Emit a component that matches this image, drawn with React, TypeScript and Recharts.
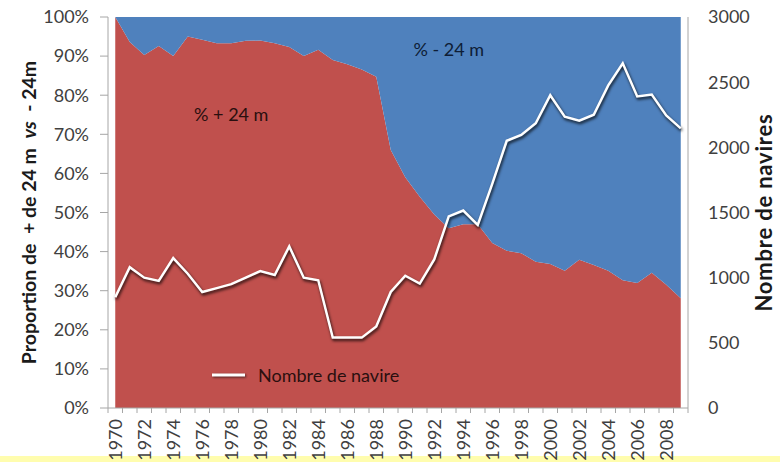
import { Area, ComposedChart, Label, Legend, Line, ReferenceDot, XAxis, YAxis } from "recharts";

const YEARS = [
  1970, 1971, 1972, 1973, 1974, 1975, 1976, 1977, 1978, 1979,
  1980, 1981, 1982, 1983, 1984, 1985, 1986, 1987, 1988, 1989,
  1990, 1991, 1992, 1993, 1994, 1995, 1996, 1997, 1998, 1999,
  2000, 2001, 2002, 2003, 2004, 2005, 2006, 2007, 2008, 2009,
];

// % of vessels over 24 m
const LARGE_PCT = [
  100, 93.6, 90.3, 92.6, 90, 95, 94.2, 93.3, 93.3, 93.9,
  94, 93.3, 92.3, 90, 91.6, 89, 87.9, 86.6, 84.7, 66,
  59, 54, 49.5, 46, 47, 47, 42.2, 40.2, 39.6, 37.4,
  36.8, 35.1, 37.9, 36.6, 35.1, 32.7, 32, 34.6, 31.5, 28.1,
];

// % of vessels under 24 m
const SMALL_PCT = [
  0, 6.4, 9.7, 7.4, 10, 5, 5.8, 6.7, 6.7, 6.1,
  6, 6.7, 7.7, 10, 8.4, 11, 12.1, 13.4, 15.3, 34,
  41, 46, 50.5, 54, 53, 53, 57.8, 59.8, 60.4, 62.6,
  63.2, 64.9, 62.1, 63.4, 64.9, 67.3, 68, 65.4, 68.5, 71.9,
];

// number of vessels
const SHIPS = [
  850, 1080, 1000, 975, 1150, 1030, 890, 920, 950, 1000,
  1050, 1020, 1240, 1000, 980, 540, 540, 540, 625, 890,
  1015, 955, 1140, 1470, 1515, 1405, 1720, 2050, 2095, 2185,
  2400, 2235, 2205, 2250, 2475, 2645, 2390, 2405, 2245, 2145,
];

const PCT_TICKS = [0, 10, 20, 30, 40, 50, 60, 70, 80, 90, 100];
const SHIP_TICKS = [0, 500, 1000, 1500, 2000, 2500, 3000];
const SHIP_MARKS = [0, 300, 600, 900, 1200, 1500, 1800, 2100, 2400, 2700, 3000];

const data = YEARS.map((year, i) => ({
  year,
  large: LARGE_PCT[i],
  small: SMALL_PCT[i],
  ships: SHIPS[i],
}));

const YEAR_BOUNDS = [...YEARS.map((y) => y - 0.5), YEARS[YEARS.length - 1] + 0.5];

const W = 780;
const H = 462;
const LEFT_W = 108;
const RIGHT_W = 92;
const BAND = (W - LEFT_W - RIGHT_W) / YEARS.length;

const FONT = "Lato, 'DejaVu Sans', sans-serif";
const TICK_COLOR = "#404040";
const AXIS_COLOR = "#a6a6a6";
const RED = "#C0504D";
const BLUE = "#4F81BD";

function YearTick({ x, y, payload }: any) {
  const year = Math.round(payload.value + 0.5);
  if (year % 2 !== 0 || year > YEARS[YEARS.length - 1]) return null;
  const cx = x + BAND / 2;
  return (
    <text
      x={cx}
      y={y}
      transform={`rotate(-90, ${cx}, ${y})`}
      textAnchor="end"
      dominantBaseline="central"
      fill={TICK_COLOR}
      fontSize={18}
      fontFamily={FONT}
    >
      {year}
    </text>
  );
}

function LeftTitle({ viewBox }: any) {
  const cx = viewBox.x + 28;
  const cy = viewBox.y + viewBox.height / 2;
  return (
    <text
      x={cx}
      y={cy}
      transform={`rotate(-90, ${cx}, ${cy})`}
      textAnchor="middle"
      dominantBaseline="central"
      fontFamily={FONT}
      fontWeight="bold"
      fontSize={19.5}
      fill="#1a1a1a"
      style={{ whiteSpace: "pre" }}
    >
      {"Proportion de  + de 24 m  "}
      <tspan fontStyle="italic">vs</tspan>
      {"  - 24m"}
    </text>
  );
}

function RightTitle({ viewBox }: any) {
  const cx = viewBox.x + 75;
  const cy = viewBox.y + viewBox.height / 2;
  return (
    <text
      x={cx}
      y={cy}
      transform={`rotate(-90, ${cx}, ${cy})`}
      textAnchor="middle"
      dominantBaseline="central"
      fontFamily={FONT}
      fontWeight="bold"
      fontSize={22}
      letterSpacing={0.8}
      fill="#1a1a1a"
    >
      Nombre de navires
    </text>
  );
}

function renderLegend({ payload }: any) {
  const items = (payload || []).filter((p: any) => p.type !== "none");
  return (
    <div style={{ display: "flex", alignItems: "center", fontFamily: FONT, fontSize: 18, color: "#2a0f0f" }}>
      {items.map((p: any) => (
        <span key={p.value} style={{ display: "flex", alignItems: "center" }}>
          <svg width={40} height={10}>
            <line x1={4} y1={5} x2={37} y2={5} stroke="#fff" strokeWidth={3} className="ships-swatch" />
          </svg>
          <span style={{ marginLeft: 10 }}>{p.value}</span>
        </span>
      ))}
    </div>
  );
}

export default function App() {
  return (
    <div style={{ position: "absolute", left: 0, top: 0, width: W, height: H, background: "#fff", overflow: "hidden" }}>
      <style>{`
        .ships-line .recharts-line-curve { filter: drop-shadow(1.5px 2px 1.5px rgba(0,0,0,0.85)); }
        .ships-swatch { filter: drop-shadow(1px 1.5px 1px rgba(0,0,0,0.6)); }
      `}</style>
      <div style={{ position: "absolute", left: 0, top: 456, width: W, height: 6, background: "#FFFDAE" }} />
      <div style={{ position: "absolute", left: 0, top: 0 }}>
        <ComposedChart width={W} height={H} data={data} margin={{ top: 17, right: 0, bottom: 0, left: 0 }}>
          <XAxis
            dataKey="year"
            type="number"
            domain={[YEARS[0] - 0.5, YEARS[YEARS.length - 1] + 0.5]}
            ticks={YEAR_BOUNDS}
            interval={0}
            height={54}
            tickSize={5}
            tickMargin={6}
            axisLine={{ stroke: AXIS_COLOR }}
            tickLine={{ stroke: AXIS_COLOR }}
            tick={<YearTick />}
          />
          <YAxis
            yAxisId="left"
            domain={[0, 100]}
            ticks={PCT_TICKS}
            interval={0}
            allowDataOverflow
            tickFormatter={(v: number) => `${v}%`}
            width={LEFT_W}
            tickSize={8}
            tickMargin={11}
            axisLine={{ stroke: AXIS_COLOR }}
            tickLine={{ stroke: AXIS_COLOR }}
            tick={{ fill: TICK_COLOR, fontSize: 18, fontFamily: FONT }}
          >
            <Label content={<LeftTitle />} />
          </YAxis>
          <YAxis
            yAxisId="marks"
            orientation="right"
            domain={[0, 3000]}
            ticks={SHIP_MARKS}
            interval={0}
            width={0}
            tickSize={5}
            tick={false}
            axisLine={{ stroke: AXIS_COLOR }}
            tickLine={{ stroke: AXIS_COLOR }}
          />
          <YAxis
            yAxisId="right"
            orientation="right"
            domain={[0, 3000]}
            ticks={SHIP_TICKS}
            interval={0}
            width={RIGHT_W}
            tickSize={0}
            tickMargin={20}
            axisLine={{ stroke: AXIS_COLOR }}
            tickLine={false}
            tick={{ fill: TICK_COLOR, fontSize: 18, fontFamily: FONT, textAnchor: "start" }}
          >
            <Label content={<RightTitle />} />
          </YAxis>
          <Area
            yAxisId="left"
            dataKey="large"
            name="% + 24 m"
            stackId="pct"
            type="linear"
            fill={RED}
            fillOpacity={1}
            stroke="none"
            legendType="none"
            isAnimationActive={false}
          />
          <Area
            yAxisId="left"
            dataKey="small"
            name="% - 24 m"
            stackId="pct"
            type="linear"
            fill={BLUE}
            fillOpacity={1}
            stroke="none"
            legendType="none"
            isAnimationActive={false}
          />
          <Line
            yAxisId="right"
            dataKey="ships"
            name="Nombre de navire"
            type="linear"
            stroke="#ffffff"
            strokeWidth={2.5}
            dot={false}
            className="ships-line"
            isAnimationActive={false}
          />
          <ReferenceDot yAxisId="left" x={1978} y={75} r={0} fill="none" stroke="none">
            <Label value="% + 24 m" position="center" fill="#2a0f0f" fontSize={18} fontFamily={FONT} />
          </ReferenceDot>
          <ReferenceDot yAxisId="left" x={1993} y={91.6} r={0} fill="none" stroke="none">
            <Label value="% - 24 m" position="center" fill="#0e1d36" fontSize={18} fontFamily={FONT} />
          </ReferenceDot>
          <Legend
            layout="horizontal"
            verticalAlign="middle"
            align="center"
            wrapperStyle={{ left: 208, top: 364, width: "auto", height: "auto" }}
            content={renderLegend}
          />
        </ComposedChart>
      </div>
    </div>
  );
}
